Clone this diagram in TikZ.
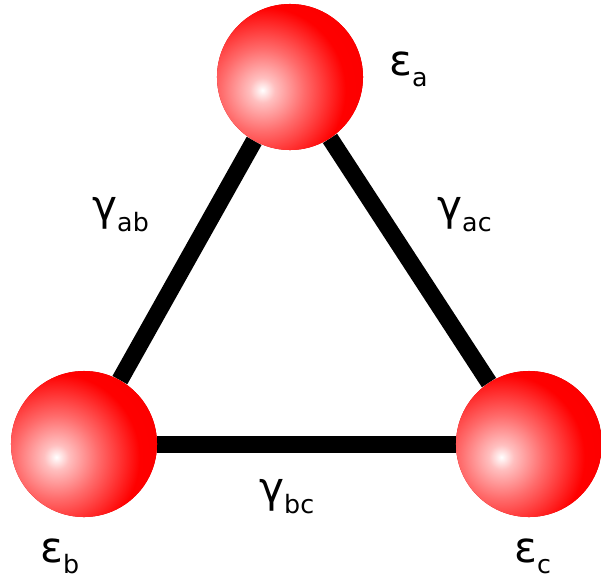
\documentclass[tikz,border=0pt]{standalone}
\usepackage{fontspec}
\setmainfont{DejaVu Sans}
\usetikzlibrary{backgrounds}
\pgfdeclareradialshading{glow}{\pgfpoint{0bp}{0bp}}{%
  color(0bp)=(white); color(3bp)=(red!25!white); color(10bp)=(red!58!white);
  color(20bp)=(red); color(40bp)=(red!95!black); color(50bp)=(red!84!black)}
\newcommand{\sublbl}[2]{#1\raisebox{-8pt}{\fontsize{18}{18}\selectfont #2}}

\begin{document}
\begin{tikzpicture}[x=0.025cm, y=-0.025cm,
  ball/.style={circle, inner sep=0pt, minimum size=3.65cm, fill=red!84!black,
    path picture={\shade[shading=glow] (path picture bounding box.center)
      ++(-0.69cm,-0.33cm) circle[radius=2.6cm];}},
  bond/.style={line width=0.425cm, black},
  lbl/.style={anchor=base west, inner sep=0pt, font=\fontsize{30}{36}\selectfont}]
  \useasboundingbox (0,0) rectangle (601,581);
  \node[ball] (a) at (290,77) {};
  \node[ball] (b) at (84,444) {};
  \node[ball] (c) at (529,444) {};
  \begin{scope}[on background layer]
    \draw[bond] (a) -- (b);
    \draw[bond] (a) -- (c);
    \draw[bond] (b) -- (c);
  \end{scope}
  \node[lbl] (ea) at (389,75) {\sublbl{ε}{a}};
  \node[lbl] (gab) at (92,220) {\sublbl{γ}{ab}};
  \node[lbl] (gac) at (437,220) {\sublbl{γ}{ac}};
  \node[lbl] (gbc) at (259,502) {\sublbl{γ}{bc}};
  \node[lbl] (eb) at (40,562) {\sublbl{ε}{b}};
  \node[lbl] (ec) at (514,562) {\sublbl{ε}{c}};
\end{tikzpicture}
\end{document}
